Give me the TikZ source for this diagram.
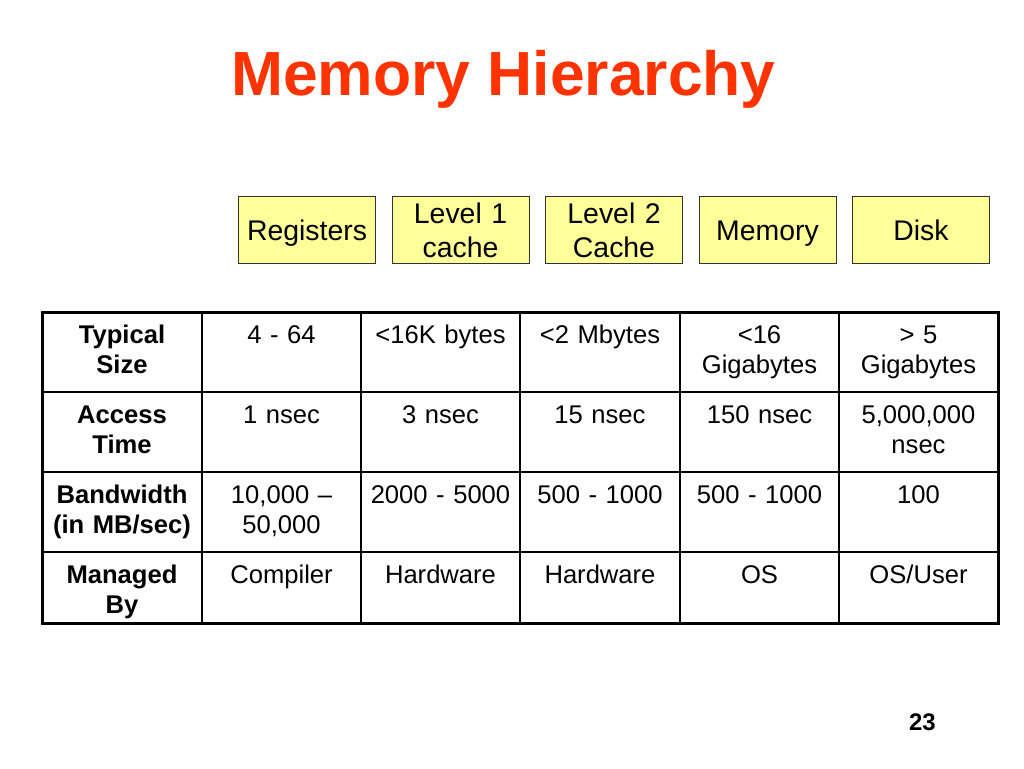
\documentclass[tikz,border=0pt]{standalone}
\usepackage{fontspec}
\setmainfont{Liberation Sans}
\usetikzlibrary{positioning}
\definecolor{titlered}{RGB}{255,51,0}
\definecolor{boxyellow}{RGB}{255,255,153}
\newcommand{\boxstrut}{\rule[-6pt]{0pt}{32pt}}
\tikzstyle{level} = [rectangle, minimum width=137pt, minimum height=67pt, text centered, text width=130pt, inner sep=0pt, draw=black!80, line width=1pt, fill=boxyellow, font=\fontsize{28.4}{34}\selectfont, execute at begin node=\boxstrut, execute at end node=\boxstrut]
\tikzstyle{cell} = [anchor=base, text centered, text width=152pt, inner sep=0pt, font=\fontsize{25.6}{30}\selectfont]
\tikzstyle{head} = [cell, font=\fontsize{25.6}{30}\selectfont\bfseries]

\begin{document}
\begin{tikzpicture}[x=1pt, y=-1pt, node distance=15.5pt]
\useasboundingbox (0,0) rectangle (1024,768);

\node (title) at (503.5,95) [anchor=base, text=titlered, font=\fontsize{62.4}{62.4}\selectfont\bfseries] {Memory Hierarchy};

% levels of the hierarchy
\node (reg) at (307,230) [level] {Registers};
\node (l1) [level, right=of reg] {Level 1\\cache};
\node (l2) [level, right=of l1] {Level 2\\Cache};
\node (mem) [level, right=of l2] {Memory};
\node (disk) [level, right=of mem] {Disk};

% table grid
\draw[line width=1.2pt] (202,312) -- (202,623) (361,312) -- (361,623) (520,312) -- (520,623)
  (680,312) -- (680,623) (839,312) -- (839,623)
  (42,392) -- (998,392) (42,472) -- (998,472) (42,552) -- (998,552);
\draw[line width=3pt] (42,312) rectangle (998,623);

% typical size
\node (size0) at (122,343) [head] {Typical\\Size};
\node (size1) at (281.5,343) [cell] {4 - 64};
\node (size2) at (440.5,343) [cell] {<16K bytes};
\node (size3) at (600,343) [cell] {<2 Mbytes};
\node (size4) at (759.5,343) [cell] {<16\\Gigabytes};
\node (size5) at (918.5,343) [cell] {> 5\\Gigabytes};

% access time
\node (time0) at (122,423) [head] {Access\\Time};
\node (time1) at (281.5,423) [cell] {1 nsec};
\node (time2) at (440.5,423) [cell] {3 nsec};
\node (time3) at (600,423) [cell] {15 nsec};
\node (time4) at (759.5,423) [cell] {150 nsec};
\node (time5) at (918.5,423) [cell] {5,000,000\\nsec};

% bandwidth
\node (bw0) at (122,503) [head] {Bandwidth\\(in MB/sec)};
\node (bw1) at (281.5,503) [cell] {10,000 –\\50,000};
\node (bw2) at (440.5,503) [cell] {2000 - 5000};
\node (bw3) at (600,503) [cell] {500 - 1000};
\node (bw4) at (759.5,503) [cell] {500 - 1000};
\node (bw5) at (918.5,503) [cell] {100};

% managed by
\node (man0) at (122,583) [head] {Managed\\By};
\node (man1) at (281.5,583) [cell] {Compiler};
\node (man2) at (440.5,583) [cell] {Hardware};
\node (man3) at (600,583) [cell] {Hardware};
\node (man4) at (759.5,583) [cell] {OS};
\node (man5) at (918.5,583) [cell] {OS/User};

\node (page) at (936,730) [anchor=base east, inner sep=0pt, font=\fontsize{24}{24}\selectfont\bfseries] {23};
\end{tikzpicture}
\end{document}
